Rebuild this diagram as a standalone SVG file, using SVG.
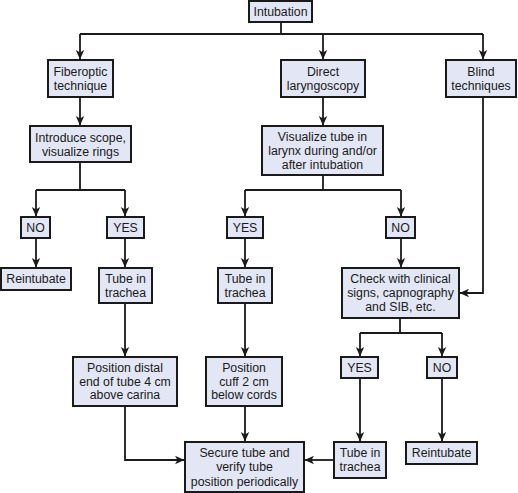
<svg xmlns="http://www.w3.org/2000/svg" width="518" height="493" viewBox="0 0 518 493">
<style>
.b{fill:#e3e6f4;stroke:#1a1a1a;stroke-width:2}
.t{font-family:"Liberation Sans",Arial,sans-serif;font-size:12.3px;fill:#1a1a1a;text-anchor:middle}
.c{fill:none;stroke:#1a1a1a;stroke-width:1.8}
</style>
<defs>
<marker id="a" markerWidth="10" markerHeight="10" refX="9" refY="5" orient="auto" markerUnits="userSpaceOnUse">
<path d="M0,0.8 L9.5,5 L0,9.2 L2.5,5 Z" fill="#1a1a1a"/>
</marker>
</defs>
<rect width="518" height="493" fill="#fff"/>
<g id="connectors">
<path class="c" d="M281,22 V34 M80,34 H483"/>
<path class="c" d="M80,34 V59" marker-end="url(#a)"/>
<path class="c" d="M323,34 V59" marker-end="url(#a)"/>
<path class="c" d="M483,34 V59" marker-end="url(#a)"/>
<path class="c" d="M80,97 V125" marker-end="url(#a)"/>
<path class="c" d="M323,97 V125" marker-end="url(#a)"/>
<path class="c" d="M80,162 V190 M36,190 H125"/>
<path class="c" d="M36,190 V216" marker-end="url(#a)"/>
<path class="c" d="M125,190 V216" marker-end="url(#a)"/>
<path class="c" d="M323,175 V190 M245,190 H401"/>
<path class="c" d="M245,190 V216" marker-end="url(#a)"/>
<path class="c" d="M401,190 V216" marker-end="url(#a)"/>
<path class="c" d="M36,238 V267" marker-end="url(#a)"/>
<path class="c" d="M125,238 V267" marker-end="url(#a)"/>
<path class="c" d="M245,238 V267" marker-end="url(#a)"/>
<path class="c" d="M401,238 V267" marker-end="url(#a)"/>
<path class="c" d="M483,97 V293 H460" marker-end="url(#a)"/>
<path class="c" d="M125,303 V356" marker-end="url(#a)"/>
<path class="c" d="M245,303 V356" marker-end="url(#a)"/>
<path class="c" d="M400,318 V333 M360,333 H442"/>
<path class="c" d="M360,333 V356" marker-end="url(#a)"/>
<path class="c" d="M442,333 V356" marker-end="url(#a)"/>
<path class="c" d="M360,378 V441" marker-end="url(#a)"/>
<path class="c" d="M442,378 V441" marker-end="url(#a)"/>
<path class="c" d="M125,406 V460 H184" marker-end="url(#a)"/>
<path class="c" d="M245,406 V441" marker-end="url(#a)"/>
<path class="c" d="M334,460 H305" marker-end="url(#a)"/>
</g>
<g id="intubation"><rect class="b" x="249" y="1" width="63" height="21"/><text class="t" x="280.5" y="16">Intubation</text></g>
<g id="fiberoptic"><rect class="b" x="48" y="60" width="65" height="37"/><text class="t" x="80.5" y="76">Fiberoptic</text><text class="t" x="80.5" y="90">technique</text></g>
<g id="direct"><rect class="b" x="281" y="60" width="84" height="37"/><text class="t" x="323" y="76">Direct</text><text class="t" x="323" y="90">laryngoscopy</text></g>
<g id="blind"><rect class="b" x="446" y="60" width="70" height="37"/><text class="t" x="481" y="76">Blind</text><text class="t" x="481" y="90">techniques</text></g>
<g id="introduce"><rect class="b" x="30" y="126" width="101" height="36"/><text class="t" x="80.5" y="142">Introduce scope,</text><text class="t" x="80.5" y="156">visualize rings</text></g>
<g id="visualize"><rect class="b" x="262" y="126" width="121" height="49"/><text class="t" x="322.5" y="141">Visualize tube in</text><text class="t" x="322.5" y="155">larynx during and/or</text><text class="t" x="322.5" y="169">after intubation</text></g>
<g id="no1"><rect class="b" x="21" y="217" width="29" height="21"/><text class="t" x="35.5" y="232">NO</text></g>
<g id="yes1"><rect class="b" x="107" y="217" width="37" height="21"/><text class="t" x="125.5" y="232">YES</text></g>
<g id="yes2"><rect class="b" x="227" y="217" width="36" height="21"/><text class="t" x="245" y="232">YES</text></g>
<g id="no2"><rect class="b" x="386" y="217" width="29" height="21"/><text class="t" x="400.5" y="232">NO</text></g>
<g id="reintubate1"><rect class="b" x="1" y="268" width="70" height="22"/><text class="t" x="36" y="283">Reintubate</text></g>
<g id="tube1"><rect class="b" x="99" y="268" width="53" height="35"/><text class="t" x="125.5" y="283">Tube in</text><text class="t" x="125.5" y="297">trachea</text></g>
<g id="tube2"><rect class="b" x="218" y="268" width="54" height="35"/><text class="t" x="245" y="283">Tube in</text><text class="t" x="245" y="297">trachea</text></g>
<g id="check"><rect class="b" x="342" y="268" width="117" height="50"/><text class="t" x="400.5" y="283">Check with clinical</text><text class="t" x="400.5" y="297">signs, capnography</text><text class="t" x="400.5" y="311">and SIB, etc.</text></g>
<g id="yes3"><rect class="b" x="341" y="357" width="37" height="21"/><text class="t" x="359.5" y="372">YES</text></g>
<g id="no3"><rect class="b" x="427" y="357" width="30" height="21"/><text class="t" x="442" y="372">NO</text></g>
<g id="posdistal"><rect class="b" x="73" y="357" width="104" height="49"/><text class="t" x="125" y="372">Position distal</text><text class="t" x="125" y="386">end of tube 4 cm</text><text class="t" x="125" y="399">above carina</text></g>
<g id="poscuff"><rect class="b" x="206" y="357" width="76" height="49"/><text class="t" x="244" y="372">Position</text><text class="t" x="244" y="386">cuff 2 cm</text><text class="t" x="244" y="399">below cords</text></g>
<g id="secure"><rect class="b" x="185" y="442" width="119" height="50"/><text class="t" x="244.5" y="457">Secure tube and</text><text class="t" x="244.5" y="471">verify tube</text><text class="t" x="244.5" y="486">position periodically</text></g>
<g id="tube3"><rect class="b" x="334" y="442" width="52" height="36"/><text class="t" x="360" y="457">Tube in</text><text class="t" x="360" y="471">trachea</text></g>
<g id="reintubate2"><rect class="b" x="406" y="442" width="71" height="22"/><text class="t" x="441.5" y="457">Reintubate</text></g>
</svg>
